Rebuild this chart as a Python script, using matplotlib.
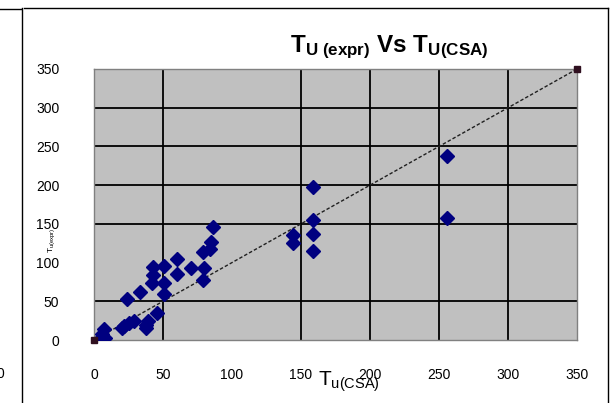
import matplotlib
matplotlib.use("Agg")
import matplotlib.pyplot as plt
from matplotlib.lines import Line2D

plt.rcParams['font.family'] = ['Liberation Sans', 'DejaVu Sans']
plt.rcParams['mathtext.fontset'] = 'custom'
plt.rcParams['mathtext.rm'] = 'Liberation Sans'
plt.rcParams['mathtext.it'] = 'Liberation Sans'
plt.rcParams['mathtext.bf'] = 'Liberation Sans:bold'

# measured ultimate torque vs CSA prediction
tu_csa = [5, 6, 7, 8, 20, 22, 25, 29, 38, 38, 39, 46, 24, 33, 42, 43, 43,
          51, 51, 51, 60, 60, 70, 79, 80, 79, 84, 85, 86,
          144, 144, 159, 159, 159, 159, 256, 256]
tu_expr = [2, 8, 14, 3, 15, 18, 22, 25, 15, 20, 24, 35, 53, 62, 73, 84, 94,
           60, 73, 95, 85, 104, 93, 78, 93, 114, 118, 127, 146,
           125, 136, 115, 137, 155, 197, 157, 238]

# 1:1 reference line
line_x = [0, 350]
line_y = [0, 350]

ticks = [0, 50, 100, 150, 200, 250, 300, 350]
grid_vals = [50, 150, 200, 250, 300]
tick_marks = [50, 150, 200, 250, 300, 350]

fig = plt.figure(figsize=(6.12, 4.03), dpi=100)
W, H = 612, 403
ax = fig.add_axes([94 / W, 63 / H, 483 / W, 271 / H])
ax.set_facecolor('#c0c0c0')
ax.set_xlim(0, 350)
ax.set_ylim(0, 350)

for v in grid_vals:
    ax.axhline(v, color='black', lw=1.3, zorder=1)
    ax.axvline(v, color='black', lw=1.3, zorder=1)

ax.plot(line_x, line_y, color='#202020', lw=1.0, dashes=(2.5, 1.5), zorder=2)
ax.plot(line_x, line_y, ls='none', marker='s', ms=4, color='#301020',
        clip_on=False, zorder=4)
ax.plot(tu_csa, tu_expr, ls='none', marker='D', ms=7.5, color='#000080',
        mec='#000080', zorder=3)

for s in ax.spines.values():
    s.set_color('#808080')
    s.set_linewidth(1.0)

ax.set_xticks(ticks)
ax.set_yticks(ticks)
ax.set_xticks(tick_marks, minor=True)
ax.set_yticks(tick_marks, minor=True)
ax.tick_params(which='major', length=0, labelsize=10)
ax.tick_params(axis='x', which='major', pad=20)
ax.tick_params(axis='y', which='major', pad=25)
ax.tick_params(which='minor', length=4, width=1, color='black', direction='out')

# axis titles
fig.text(318 / W, 1 - 386 / H, r'T$_{\rm u(CSA)}$', fontsize=15, ha='left',
         va='baseline')
fig.text(52 / W, 1 - 240 / H, r'T$_{\rm u(expr)}$', fontsize=6, rotation=90,
         ha='center', va='center')

# chart title
fig.text(389 / W, 1 - 52 / H,
         r'$\mathbf{T}_{\mathbf{U\ (expr)}}\ \mathbf{Vs}\ \mathbf{T}_{\mathbf{U(CSA)}}$',
         fontsize=17.5, ha='center', va='baseline')

# frame of this chart and edge of the neighbouring one
def px_line(xs, ys):
    fig.add_artist(Line2D([x / W for x in xs], [1 - y / H for y in ys],
                          color='black', lw=1.0, transform=fig.transFigure))

px_line([0, 21], [9, 9])
px_line([22, 22], [8, 403])
px_line([24, 608], [7.5, 7.5])
px_line([608, 608], [7.5, 403])
fig.text(4 / W, 1 - 374 / H, '0', fontsize=10, ha='right', va='center')

fig.savefig('out.png', dpi=100)
